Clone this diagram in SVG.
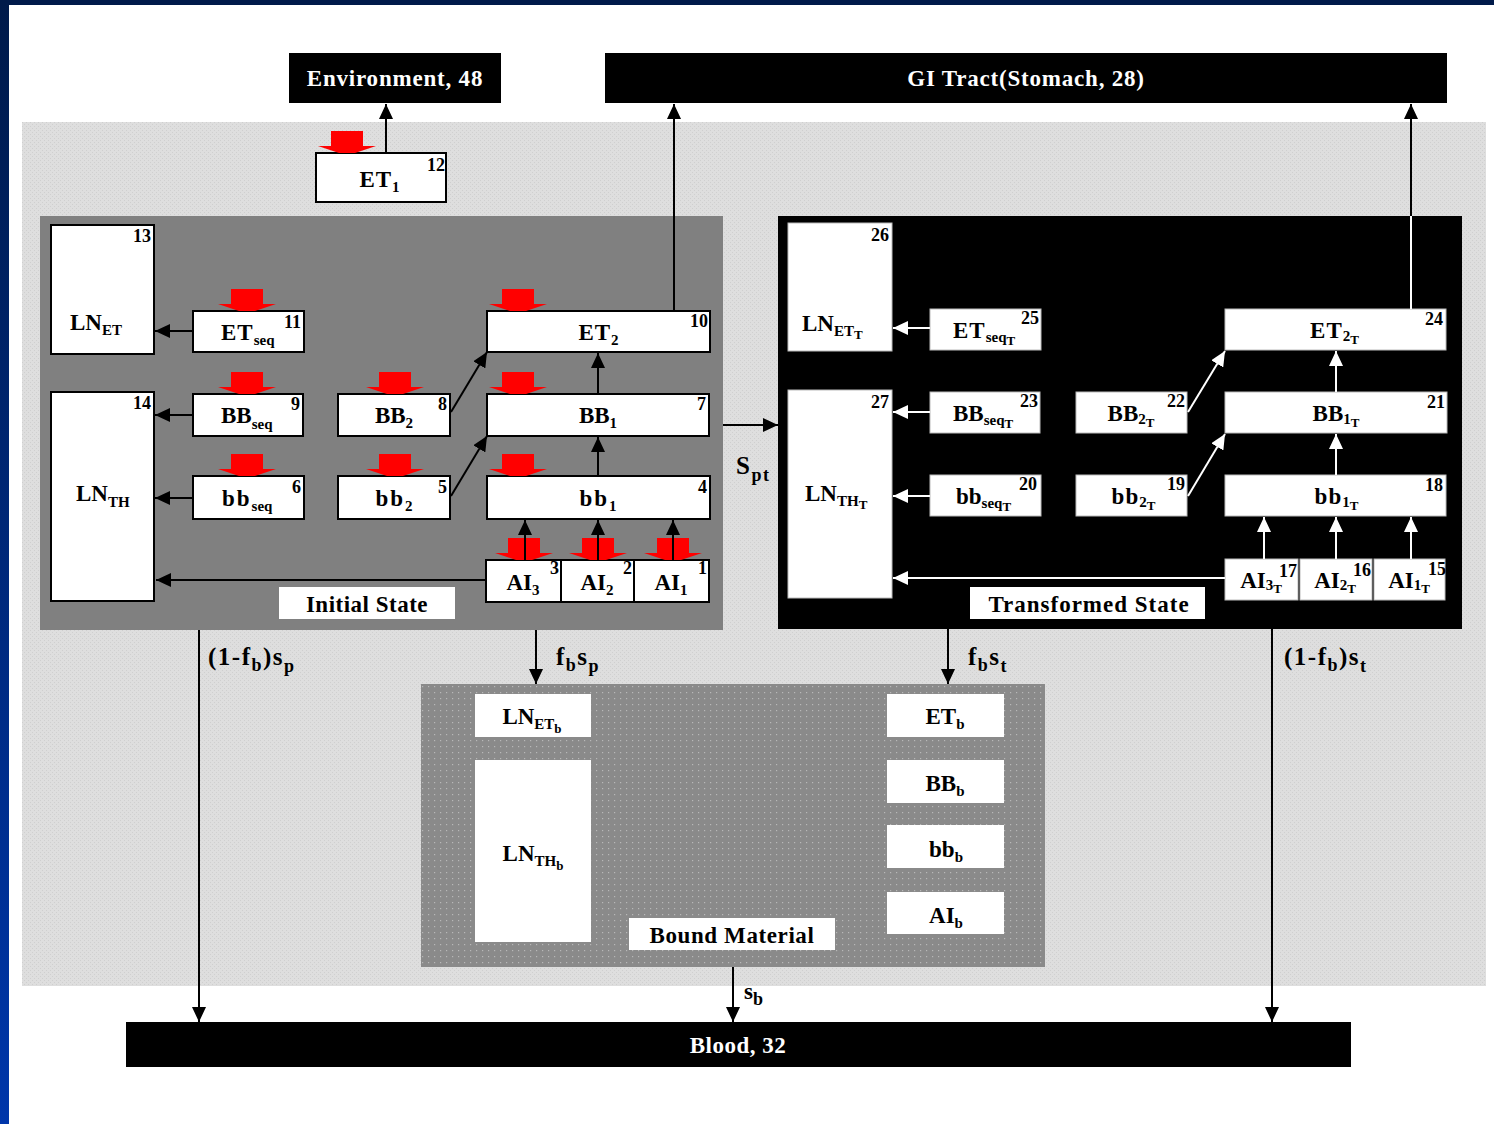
<svg xmlns="http://www.w3.org/2000/svg" xmlns:xlink="http://www.w3.org/1999/xlink" width="1494" height="1124" viewBox="0 0 1494 1124">
<style>
.t{font-family:"Liberation Serif","Times New Roman",serif;font-weight:bold;font-size:23px;fill:#000}
.w{fill:#fff}
.f{font-size:25px;letter-spacing:1.5px}
.n{font-family:"Liberation Serif","Times New Roman",serif;font-weight:bold;font-size:18px;fill:#000;text-anchor:end}
.s{font-size:15px}
.fs{font-size:18px}
.ss{font-size:13px}
.box{fill:#fff;stroke:#000;stroke-width:2}
.wbox{fill:#fff;stroke:#bbb;stroke-width:1}
.lbl{fill:#fff}
.ln{stroke:#000;stroke-width:2;fill:none}
.wl{stroke:#fff;stroke-width:2;fill:none}
</style>
<defs>
<linearGradient id="lg" x1="0" y1="0" x2="0" y2="1"><stop offset="0" stop-color="#001a4a"/><stop offset="1" stop-color="#0036aa"/></linearGradient>
<pattern id="dots" width="6" height="6" patternUnits="userSpaceOnUse"><rect width="6" height="6" fill="#8a8a8a"/><rect x="2" y="2" width="1.2" height="1.2" fill="#b8b8b8"/></pattern>
<pattern id="lt" width="4" height="4" patternUnits="userSpaceOnUse"><rect width="4" height="4" fill="#dedede"/><rect x="0" y="0" width="1" height="1" fill="#cfcfcf"/><rect x="2" y="2" width="1" height="1" fill="#cfcfcf"/></pattern>
<marker id="ab" viewBox="0 0 15 14" refX="15" refY="7" markerWidth="15" markerHeight="14" markerUnits="userSpaceOnUse" orient="auto"><path d="M0,0 L15,7 L0,14 z" fill="#000"/></marker>
<marker id="aw" viewBox="0 0 15 14" refX="15" refY="7" markerWidth="15" markerHeight="14" markerUnits="userSpaceOnUse" orient="auto"><path d="M0,0 L15,7 L0,14 z" fill="#fff"/></marker>
<path id="red" d="M-16,-22 H16 V-7 H29 L8,0 H-8 L-29,-7 H-16 Z" fill="#ff0000"/>
</defs>

<g id="background">
<rect x="0" y="0" width="1494" height="1124" fill="#fff"/>
<rect x="0" y="0" width="1494" height="5" fill="#001a4a"/>
<rect x="0" y="0" width="9" height="1124" fill="url(#lg)"/>
<rect x="22" y="122" width="1464" height="864" fill="url(#lt)"/>
<rect x="40" y="216" width="683" height="414" fill="#808080"/>
<rect x="778" y="216" width="684" height="413" fill="#000"/>
<rect x="421" y="684" width="624" height="283" fill="url(#dots)"/>
</g>

<g id="environment"><rect x="289" y="53" width="212" height="50" fill="#000"/><text class="t w" x="395" y="86" text-anchor="middle" letter-spacing="0.8" font-size="24">Environment, 48</text></g>
<g id="gi-tract"><rect x="605" y="53" width="842" height="50" fill="#000"/><text class="t w" x="1026" y="86" text-anchor="middle" letter-spacing="0.8" font-size="24">GI Tract(Stomach, 28)</text></g>
<g id="blood"><rect x="126" y="1022" width="1225" height="45" fill="#000"/><text class="t w" x="738" y="1053" text-anchor="middle" letter-spacing="0.5">Blood, 32</text></g>

<g id="n12"><rect class="box" x="316" y="153" width="130" height="49"/><text class="t" x="380" y="187" text-anchor="middle" letter-spacing="1">ET<tspan class="s" dy="5">1</tspan></text><text class="n" x="445" y="171">12</text></g>

<g id="n13"><rect class="box" x="51" y="225" width="103" height="129"/><text class="t" x="70" y="330">LN<tspan class="s" dy="5">ET</tspan></text><text class="n" x="151" y="242">13</text></g>
<g id="n14"><rect class="box" x="51" y="392" width="103" height="209"/><text class="t" x="76" y="501">LN<tspan class="s" dy="6">TH</tspan></text><text class="n" x="151" y="409">14</text></g>
<g id="n11"><rect class="box" x="193" y="311" width="111" height="41"/><text class="t" x="221" y="340" letter-spacing="1">ET<tspan class="s" dy="5" letter-spacing="0">seq</tspan></text><text class="n" x="301" y="328">11</text></g>
<g id="n9"><rect class="box" x="193" y="394" width="110" height="42"/><text class="t" x="221" y="423">BB<tspan class="s" dy="6">seq</tspan></text><text class="n" x="300" y="410">9</text></g>
<g id="n6"><rect class="box" x="193" y="476" width="111" height="43"/><text class="t" x="222" y="506" letter-spacing="2">bb<tspan class="s" dy="5" letter-spacing="0">seq</tspan></text><text class="n" x="301" y="493">6</text></g>
<g id="n8"><rect class="box" x="338" y="394" width="112" height="42"/><text class="t" x="394" y="423" text-anchor="middle">BB<tspan class="s" dy="5">2</tspan></text><text class="n" x="447" y="410">8</text></g>
<g id="n5"><rect class="box" x="338" y="476" width="112" height="43"/><text class="t" x="395" y="506" text-anchor="middle" letter-spacing="2">bb<tspan class="s" dy="5">2</tspan></text><text class="n" x="447" y="493">5</text></g>
<g id="n10"><rect class="box" x="487" y="311" width="223" height="41"/><text class="t" x="599" y="340" text-anchor="middle" letter-spacing="1">ET<tspan class="s" dy="5">2</tspan></text><text class="n" x="708" y="327">10</text></g>
<g id="n7"><rect class="box" x="487" y="394" width="222" height="42"/><text class="t" x="598" y="423" text-anchor="middle">BB<tspan class="s" dy="5">1</tspan></text><text class="n" x="706" y="410">7</text></g>
<g id="n4"><rect class="box" x="487" y="476" width="223" height="43"/><text class="t" x="599" y="506" text-anchor="middle" letter-spacing="2">bb<tspan class="s" dy="5">1</tspan></text><text class="n" x="707" y="493">4</text></g>
<g id="n3"><rect class="box" x="486" y="560" width="75" height="42"/><text class="t" x="523" y="590" text-anchor="middle">AI<tspan class="s" dy="5">3</tspan></text><text class="n" x="559" y="574">3</text></g>
<g id="n2"><rect class="box" x="561" y="560" width="73" height="42"/><text class="t" x="597" y="590" text-anchor="middle">AI<tspan class="s" dy="5">2</tspan></text><text class="n" x="632" y="574">2</text></g>
<g id="n1"><rect class="box" x="634" y="560" width="75" height="42"/><text class="t" x="671" y="590" text-anchor="middle">AI<tspan class="s" dy="5">1</tspan></text><text class="n" x="707" y="574">1</text></g>
<g id="initial-state"><rect class="lbl" x="279" y="587" width="176" height="32"/><text class="t" x="367" y="612" text-anchor="middle" letter-spacing="0.5">Initial State</text></g>

<g id="n26"><rect class="wbox" x="788" y="223" width="104" height="128"/><text class="t" x="802" y="331">LN<tspan class="s" dy="5">ET</tspan><tspan class="ss" dy="3">T</tspan></text><text class="n" x="889" y="241">26</text></g>
<g id="n27"><rect class="wbox" x="788" y="390" width="104" height="208"/><text class="t" x="805" y="501">LN<tspan class="s" dy="5">TH</tspan><tspan class="ss" dy="3">T</tspan></text><text class="n" x="889" y="408">27</text></g>
<g id="n25"><rect class="wbox" x="930" y="309" width="111" height="41"/><text class="t" x="953" y="338" letter-spacing="1">ET<tspan class="s" dy="4" letter-spacing="0">seq</tspan><tspan class="ss" dy="3">T</tspan></text><text class="n" x="1039" y="324">25</text></g>
<g id="n23"><rect class="wbox" x="930" y="392" width="110" height="41"/><text class="t" x="953" y="421">BB<tspan class="s" dy="4">seq</tspan><tspan class="ss" dy="3">T</tspan></text><text class="n" x="1038" y="407">23</text></g>
<g id="n20"><rect class="wbox" x="930" y="475" width="111" height="41"/><text class="t" x="956" y="504">bb<tspan class="s" dy="4">seq</tspan><tspan class="ss" dy="3">T</tspan></text><text class="n" x="1037" y="490">20</text></g>
<g id="n22"><rect class="wbox" x="1076" y="392" width="111" height="41"/><text class="t" x="1131" y="421" text-anchor="middle">BB<tspan class="s" dy="3">2</tspan><tspan class="ss" dy="3">T</tspan></text><text class="n" x="1185" y="407">22</text></g>
<g id="n19"><rect class="wbox" x="1076" y="475" width="111" height="41"/><text class="t" x="1134" y="504" text-anchor="middle" letter-spacing="1">bb<tspan class="s" dy="3" letter-spacing="0">2</tspan><tspan class="ss" dy="3">T</tspan></text><text class="n" x="1185" y="490">19</text></g>
<g id="n24"><rect class="wbox" x="1225" y="309" width="221" height="41"/><text class="t" x="1335" y="338" text-anchor="middle" letter-spacing="1">ET<tspan class="s" dy="3" letter-spacing="0">2</tspan><tspan class="ss" dy="3">T</tspan></text><text class="n" x="1443" y="325">24</text></g>
<g id="n21"><rect class="wbox" x="1225" y="392" width="222" height="41"/><text class="t" x="1336" y="421" text-anchor="middle">BB<tspan class="s" dy="3">1</tspan><tspan class="ss" dy="3">T</tspan></text><text class="n" x="1445" y="408">21</text></g>
<g id="n18"><rect class="wbox" x="1225" y="475" width="221" height="41"/><text class="t" x="1337" y="504" text-anchor="middle" letter-spacing="1">bb<tspan class="s" dy="3" letter-spacing="0">1</tspan><tspan class="ss" dy="3">T</tspan></text><text class="n" x="1443" y="491">18</text></g>
<g id="n17"><rect class="wbox" x="1225" y="559" width="73" height="41"/><text class="t" x="1261" y="588" text-anchor="middle">AI<tspan class="s" dy="2">3</tspan><tspan class="ss" dy="3">T</tspan></text><text class="n" x="1297" y="577">17</text></g>
<g id="n16"><rect class="wbox" x="1300" y="559" width="72" height="41"/><text class="t" x="1335" y="588" text-anchor="middle">AI<tspan class="s" dy="2">2</tspan><tspan class="ss" dy="3">T</tspan></text><text class="n" x="1371" y="576">16</text></g>
<g id="n15"><rect class="wbox" x="1374" y="559" width="71" height="41"/><text class="t" x="1409" y="588" text-anchor="middle">AI<tspan class="s" dy="2">1</tspan><tspan class="ss" dy="3">T</tspan></text><text class="n" x="1446" y="575">15</text></g>
<g id="transformed-state"><rect class="lbl" x="970" y="587" width="235" height="32"/><text class="t" x="1089" y="612" text-anchor="middle" letter-spacing="1">Transformed State</text></g>

<g id="ln-et-b"><rect class="lbl" x="475" y="694" width="116" height="43"/><text class="t" x="532" y="724" text-anchor="middle">LN<tspan class="s" dy="5">ET</tspan><tspan class="ss" dy="4">b</tspan></text></g>
<g id="ln-th-b"><rect class="lbl" x="475" y="760" width="116" height="182"/><text class="t" x="533" y="861" text-anchor="middle">LN<tspan class="s" dy="5">TH</tspan><tspan class="ss" dy="4">b</tspan></text></g>
<g id="et-b"><rect class="lbl" x="887" y="694" width="117" height="43"/><text class="t" x="945" y="724" text-anchor="middle">ET<tspan class="s" dy="5">b</tspan></text></g>
<g id="bb-cap-b"><rect class="lbl" x="887" y="760" width="117" height="43"/><text class="t" x="945" y="791" text-anchor="middle">BB<tspan class="s" dy="5">b</tspan></text></g>
<g id="bb-b"><rect class="lbl" x="887" y="825" width="117" height="43"/><text class="t" x="946" y="857" text-anchor="middle">bb<tspan class="s" dy="5">b</tspan></text></g>
<g id="ai-b"><rect class="lbl" x="887" y="892" width="117" height="42"/><text class="t" x="946" y="923" text-anchor="middle">AI<tspan class="s" dy="5">b</tspan></text></g>
<g id="bound-material"><rect class="lbl" x="629" y="918" width="206" height="32"/><text class="t" x="732" y="943" text-anchor="middle" font-size="24" letter-spacing="0.6">Bound Material</text></g>

<g id="connectors">
<use xlink:href="#red" x="347" y="153"/>
<use xlink:href="#red" x="247" y="311"/>
<use xlink:href="#red" x="247" y="394"/>
<use xlink:href="#red" x="247" y="476"/>
<use xlink:href="#red" x="395" y="394"/>
<use xlink:href="#red" x="395" y="476"/>
<use xlink:href="#red" x="518" y="311"/>
<use xlink:href="#red" x="518" y="394"/>
<use xlink:href="#red" x="518" y="476"/>
<use xlink:href="#red" x="524" y="560"/>
<use xlink:href="#red" x="598" y="560"/>
<use xlink:href="#red" x="673" y="560"/>

<path class="ln" d="M386,153 V104" marker-end="url(#ab)"/>
<path class="ln" d="M674,311 V104" marker-end="url(#ab)"/>
<path class="ln" d="M1411,216 V104" marker-end="url(#ab)"/>
<path class="ln" d="M193,331 H155" marker-end="url(#ab)"/>
<path class="ln" d="M193,415 H155" marker-end="url(#ab)"/>
<path class="ln" d="M193,498 H155" marker-end="url(#ab)"/>
<path class="ln" d="M486,580 H156" marker-end="url(#ab)"/>
<path class="ln" d="M451,412 L487,352" marker-end="url(#ab)"/>
<path class="ln" d="M451,496 L487,436" marker-end="url(#ab)"/>
<path class="ln" d="M598,394 V353" marker-end="url(#ab)"/>
<path class="ln" d="M598,476 V437" marker-end="url(#ab)"/>
<path class="ln" d="M525,560 V520" marker-end="url(#ab)"/>
<path class="ln" d="M598,560 V520" marker-end="url(#ab)"/>
<path class="ln" d="M673,560 V520" marker-end="url(#ab)"/>
<path class="ln" d="M723,425 H778" marker-end="url(#ab)"/>
<path class="ln" d="M199,630 V1022" marker-end="url(#ab)"/>
<path class="ln" d="M536,630 V684" marker-end="url(#ab)"/>
<path class="ln" d="M948,629 V684" marker-end="url(#ab)"/>
<path class="ln" d="M1272,629 V1022" marker-end="url(#ab)"/>
<path class="ln" d="M733,967 V1022" marker-end="url(#ab)"/>

<path class="wl" d="M1411,309 V216"/>
<path class="wl" d="M930,328 H893" marker-end="url(#aw)"/>
<path class="wl" d="M930,412 H893" marker-end="url(#aw)"/>
<path class="wl" d="M930,496 H893" marker-end="url(#aw)"/>
<path class="wl" d="M1225,578 H893" marker-end="url(#aw)"/>
<path class="wl" d="M1188,412 L1225,351" marker-end="url(#aw)"/>
<path class="wl" d="M1188,496 L1225,434" marker-end="url(#aw)"/>
<path class="wl" d="M1336,392 V351" marker-end="url(#aw)"/>
<path class="wl" d="M1336,475 V434" marker-end="url(#aw)"/>
<path class="wl" d="M1264,559 V517" marker-end="url(#aw)"/>
<path class="wl" d="M1336,559 V517" marker-end="url(#aw)"/>
<path class="wl" d="M1411,559 V517" marker-end="url(#aw)"/>

<text class="t f" x="736" y="474">S<tspan class="fs" dy="7">pt</tspan></text>
<text class="t f" x="208" y="665">(1-f<tspan class="fs" dy="6">b</tspan><tspan dy="-6">)s</tspan><tspan class="fs" dy="7">p</tspan></text>
<text class="t f" x="556" y="665">f<tspan class="fs" dy="6">b</tspan><tspan dy="-6">s</tspan><tspan class="fs" dy="7">p</tspan></text>
<text class="t f" x="968" y="665">f<tspan class="fs" dy="6">b</tspan><tspan dy="-6">s</tspan><tspan class="fs" dy="7">t</tspan></text>
<text class="t f" x="1284" y="665">(1-f<tspan class="fs" dy="6">b</tspan><tspan dy="-6">)s</tspan><tspan class="fs" dy="7">t</tspan></text>
<text class="t" x="744" y="999" font-size="24">s<tspan class="fs" dy="6">b</tspan></text>
</g>
</svg>
